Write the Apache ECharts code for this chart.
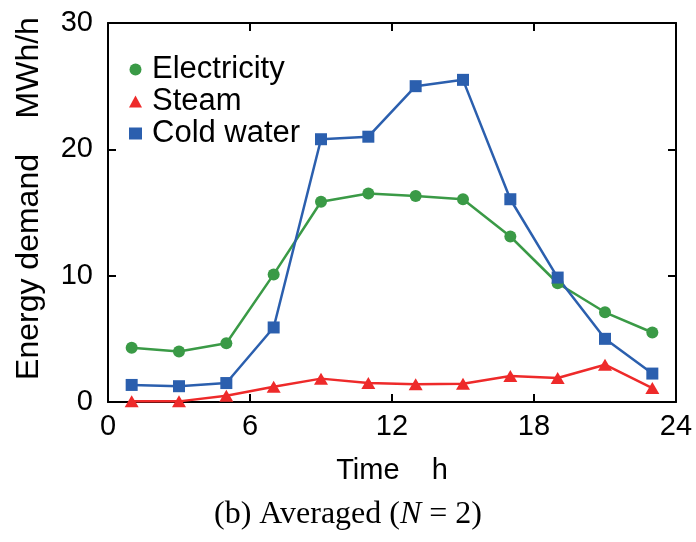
<!DOCTYPE html>
<html>
<head>
<meta charset="utf-8">
<script src="https://cdn.jsdelivr.net/npm/echarts@6/dist/echarts.min.js"></script>
<style>
    html, body { margin: 0; padding: 0; background: #fff; }
    #chart { width: 696px; height: 542px; }
</style>
</head>
<body>
<div id="chart"></div>
<script>
// time of day, h
var hours = [1, 3, 5, 7, 9, 11, 13, 15, 17, 19, 21, 23];
// energy demand, MWh/h
var electricity = [4.3, 4.0, 4.65, 10.1, 15.85, 16.5, 16.3, 16.05, 13.1, 9.4, 7.1, 5.5];
var steam = [0.05, 0.05, 0.5, 1.2, 1.85, 1.5, 1.4, 1.45, 2.05, 1.9, 2.95, 1.1];
var coldWater = [1.35, 1.25, 1.5, 5.9, 20.8, 21.0, 25.0, 25.5, 16.05, 9.85, 5.0, 2.25];
var seriesNames = ['Electricity', 'Steam', 'Cold water'];
var colors = ['#3a9a46', '#ee2a2a', '#2b5fae'];

var sans = 'Liberation Sans, Arial, sans-serif';
var serif = 'Liberation Serif, Times New Roman, serif';

function pairs(ys) {
    var out = [];
    for (var i = 0; i < hours.length; i++) {
        out.push([hours[i], ys[i]]);
    }
    return out;
}

function axisLine() {
    return { show: true, onZero: false, lineStyle: { color: '#000', width: 2 } };
}

function axisTick() {
    return { show: true, inside: true, length: 8, lineStyle: { color: '#000', width: 2 } };
}

var myChart = echarts.init(document.getElementById('chart'));

var option = {
    animation: false,
    backgroundColor: '#fff',
    title: {
        text: '{t|(b) Averaged (}{i|N}{t| = 2)}',
        left: 'center',
        top: 494,
        textStyle: {
            rich: {
                t: { fontFamily: serif, fontSize: 32, fontWeight: 'normal', color: '#000' },
                i: { fontFamily: serif, fontSize: 32, fontWeight: 'normal', fontStyle: 'italic', color: '#000' }
            }
        }
    },
    legend: {
        orient: 'vertical',
        left: 124,
        top: 49,
        itemWidth: 13,
        itemHeight: 12,
        itemGap: 1,
        textStyle: { fontFamily: sans, fontSize: 31, lineHeight: 31, color: '#000', padding: [0, 0, 0, 5] },
        data: [
            { name: seriesNames[0], icon: 'circle' },
            { name: seriesNames[1], icon: 'triangle' },
            { name: seriesNames[2], icon: 'rect' }
        ]
    },
    grid: { left: 108, right: 20, top: 23, bottom: 140 },
    xAxis: [{
        type: 'value',
        min: 0,
        max: 24,
        interval: 6,
        name: 'Time    h',
        nameLocation: 'middle',
        nameGap: 54,
        nameTextStyle: { fontFamily: sans, fontSize: 29, color: '#000' },
        axisLine: axisLine(),
        axisTick: axisTick(),
        splitLine: { show: false },
        axisLabel: { fontFamily: sans, fontSize: 29, color: '#000', margin: 10 }
    }, {
        type: 'value',
        position: 'top',
        min: 0,
        max: 24,
        interval: 6,
        axisLine: axisLine(),
        axisTick: axisTick(),
        splitLine: { show: false },
        axisLabel: { show: false }
    }],
    yAxis: [{
        type: 'value',
        min: 0,
        max: 30,
        interval: 10,
        name: 'Energy demand    MWh/h',
        nameLocation: 'middle',
        nameGap: 63,
        nameTextStyle: { fontFamily: sans, fontSize: 32, color: '#000', padding: [0, 0, 0, 28] },
        axisLine: axisLine(),
        axisTick: axisTick(),
        splitLine: { show: false },
        axisLabel: { fontFamily: sans, fontSize: 29, color: '#000', margin: 15 }
    }, {
        type: 'value',
        position: 'right',
        min: 0,
        max: 30,
        interval: 10,
        axisLine: axisLine(),
        axisTick: axisTick(),
        splitLine: { show: false },
        axisLabel: { show: false }
    }],
    series: [{
        name: seriesNames[0],
        type: 'line',
        data: pairs(electricity),
        symbol: 'circle',
        symbolSize: 12,
        clip: false,
        itemStyle: { color: colors[0] },
        lineStyle: { color: colors[0], width: 2.5 }
    }, {
        name: seriesNames[1],
        type: 'line',
        data: pairs(steam),
        symbol: 'triangle',
        symbolSize: [14, 12],
        clip: false,
        itemStyle: { color: colors[1] },
        lineStyle: { color: colors[1], width: 2.5 }
    }, {
        name: seriesNames[2],
        type: 'line',
        data: pairs(coldWater),
        symbol: 'rect',
        symbolSize: 12,
        clip: false,
        itemStyle: { color: colors[2] },
        lineStyle: { color: colors[2], width: 2.5 }
    }]
};

myChart.setOption(option);
</script>
</body>
</html>
